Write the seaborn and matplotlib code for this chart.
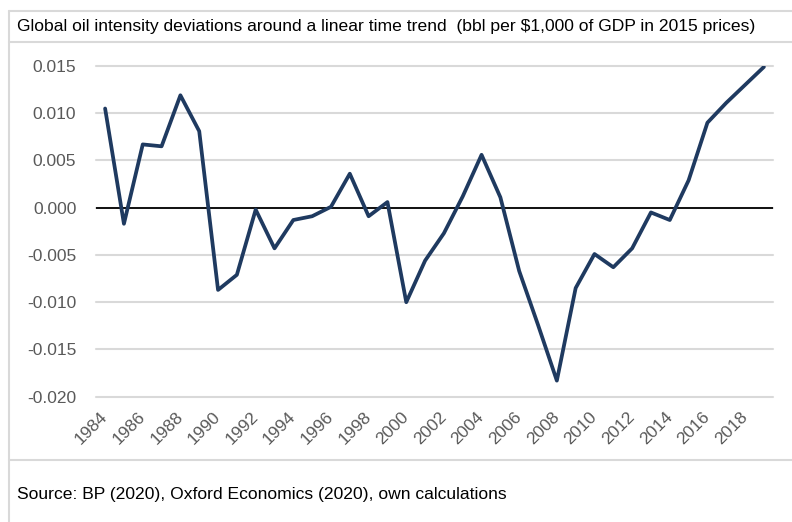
import matplotlib
matplotlib.use("Agg")
import matplotlib.pyplot as plt
import pandas as pd
import seaborn as sns
from matplotlib.lines import Line2D

"""
Global oil intensity deviations around a linear time trend.
"""

years = list(range(1984, 2020))
deviation = [0.0105, -0.0017, 0.0067, 0.0065, 0.0119, 0.0081, -0.0087, -0.0071,
             -0.0002, -0.0043, -0.0013, -0.0009, 0.0001, 0.0036, -0.0009, 0.0006,
             -0.0100, -0.0056, -0.0027, 0.0012, 0.0056, 0.0011, -0.0067, -0.0124,
             -0.0183, -0.0085, -0.0049, -0.0063, -0.0043, -0.0005, -0.0013, 0.0029,
             0.0090, 0.0111, 0.0130, 0.0149]
yticks = [0.015, 0.010, 0.005, 0.000, -0.005, -0.010, -0.015, -0.020]
xticks = list(range(1984, 2020, 2))

title = "Global oil intensity deviations around a linear time trend  (bbl per $1,000 of GDP in 2015 prices)"
source = "Source: BP (2020), Oxford Economics (2020), own calculations"

df = pd.DataFrame({"year": years, "dev": deviation})

sns.set_style("white")
plt.rcParams['font.family'] = ['Liberation Sans', 'DejaVu Sans']

W, H = 792, 522
fig = plt.figure(figsize=(W / 100, H / 100), dpi=100)
ax = fig.add_axes([95.7 / W, 1 - 396.7 / H, (773.3 - 95.7) / W, (396.7 - 66) / H])

ax.set_ylim(-0.020, 0.015)
ax.set_xlim(years[0] - 0.5, years[-1] + 0.5)
ax.set_yticks(yticks)
ax.set_yticklabels([f"{v:.3f}" for v in yticks])
ax.set_xticks(xticks)
ax.set_xticklabels([str(y) for y in xticks], rotation=45, ha='right', va='center',
                   rotation_mode='anchor')
ax.grid(axis='y', color='#d9d9d9', linewidth=1.5)
for gl in ax.get_ygridlines():
    gl.set_clip_on(False)
ax.set_axisbelow(True)
ax.axhline(0, color='black', linewidth=1.3, zorder=2)

sns.lineplot(data=df, x="year", y="dev", color='#1f3a60', linewidth=2.7, ax=ax, zorder=3)

ax.set_xlabel('')
ax.set_ylabel('')
for s in ax.spines.values():
    s.set_visible(False)
ax.tick_params(axis='y', length=0, pad=14, labelsize=12.5, labelcolor='#595959')
ax.tick_params(axis='x', length=0, pad=13, labelsize=12.5, labelcolor='#595959')

# frame around the chart
frame = '#d9d9d9'
fig.add_artist(Line2D([9 / W, 9 / W], [0, 1 - 11 / H], color=frame, linewidth=1.5))
for yy in [11, 42, 460]:
    fig.add_artist(Line2D([9 / W, 1], [1 - yy / H, 1 - yy / H], color=frame, linewidth=1.5))

fig.text(17 / W, 1 - 26.5 / H, title, fontsize=12.6, va='center', ha='left', color='black')
fig.text(17 / W, 1 - 494 / H, source, fontsize=12.6, va='center', ha='left', color='black')

plt.savefig('out.png', dpi=100)
